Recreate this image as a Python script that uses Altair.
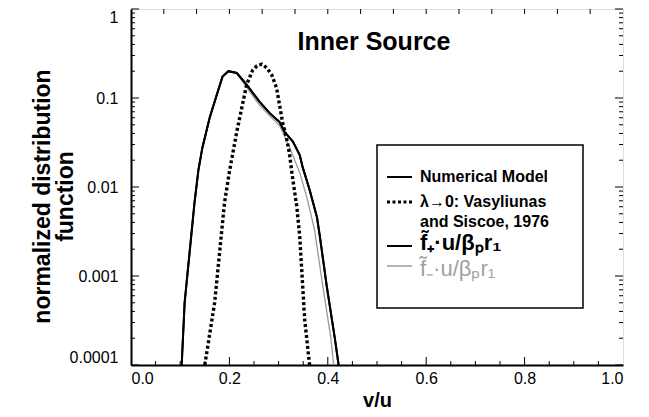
import altair as alt
import pandas as pd

# ---- data (v/u, normalized distribution function) ----
num_x = [0.103, 0.109, 0.119, 0.129, 0.137, 0.145, 0.160, 0.174, 0.186, 0.198,
         0.215, 0.235, 0.261, 0.282, 0.302, 0.312, 0.329, 0.343, 0.349, 0.363,
         0.378, 0.384, 0.398, 0.414, 0.422]
num_y = [0.0001, 0.000501, 0.00182, 0.00661, 0.0155, 0.0275, 0.0603, 0.107, 0.174, 0.200,
         0.191, 0.141, 0.0912, 0.0676, 0.0537, 0.0417, 0.0324, 0.0229, 0.0166, 0.00933,
         0.00457, 0.00275, 0.000759, 0.000204, 0.0001]

fplus_x = list(num_x)
fplus_y = list(num_y)

fminus_x = [0.103, 0.109, 0.119, 0.129, 0.137, 0.145, 0.160, 0.174, 0.186, 0.198,
            0.215, 0.235, 0.261, 0.282, 0.302, 0.322, 0.343, 0.359, 0.373, 0.390,
            0.406, 0.412]
fminus_y = [0.0001, 0.000501, 0.00182, 0.00661, 0.0155, 0.0275, 0.0603, 0.107, 0.174, 0.200,
            0.189, 0.132, 0.0832, 0.0631, 0.0490, 0.0282, 0.0145, 0.00708, 0.00331, 0.000759,
            0.000204, 0.0001]

vas_x = [0.150, 0.170, 0.180, 0.190, 0.200, 0.215, 0.221, 0.235, 0.247, 0.256,
         0.266, 0.276, 0.286, 0.296, 0.302, 0.308, 0.316, 0.322, 0.329, 0.337,
         0.343, 0.347, 0.353, 0.363]
vas_y = [0.0001, 0.000501, 0.00182, 0.00661, 0.0148, 0.0417, 0.0603, 0.141, 0.204, 0.230,
         0.240, 0.218, 0.182, 0.129, 0.0832, 0.0537, 0.0355, 0.0240, 0.0120, 0.00603,
         0.00275, 0.00117, 0.000324, 0.0001]

x_labels_vals = [0.0, 0.2, 0.4, 0.6, 0.8, 1.0]
x_minor_bottom = [0.05, 0.1, 0.15, 0.25, 0.3, 0.35, 0.45, 0.5, 0.55, 0.65, 0.7, 0.75, 0.85, 0.9, 0.95]
x_major_bottom = [0.2, 0.4, 0.6, 0.8]
x_ticks_top = [1/15, 2/15, 3/15, 4/15, 5/15, 6/15, 7/15, 8/15, 9/15, 10/15, 11/15, 12/15, 13/15, 14/15]
y_major = [0.0001, 0.001, 0.01, 0.1, 1.0]
y_minor = [m * d for d in (0.0001, 0.001, 0.01, 0.1) for m in range(2, 10)]

title_text = "Inner Source"
x_title = "v/u"
y_title = ["normalized distribution", "function"]
legend_labels = ["Numerical Model", "λ→0: Vasyliunas", "and Siscoe, 1976",
                 "f̃₊·u/βₚr₁", "f̃₋·u/βₚr₁"]

W, H = 492, 356
FONT = "Liberation Sans"

xscale = alt.Scale(domain=[0, 1], nice=False)
yscale = alt.Scale(type="log", domain=[0.0001, 1], nice=False)

xaxis = alt.Axis(values=x_labels_vals, format=".1f", ticks=False, grid=False,
                 domainWidth=2, domainColor="black", labelFontSize=16,
                 labelFont=FONT, labelColor="black", labelPadding=5,
                 titleFont=FONT, titleFontSize=20, titleFontWeight="bold",
                 titleColor="black", titlePadding=4)
yaxis = alt.Axis(values=y_major, format="~g", ticks=False, grid=False,
                 domainWidth=2, domainColor="black", labelFontSize=16,
                 labelFont=FONT, labelColor="black", labelPadding=13,
                 labelFlush=True,
                 titleFont=FONT, titleFontSize=23, titleFontWeight="bold",
                 titleColor="black", titleLineHeight=23,
                 titleX=-77, titleY=187)

X = lambda: alt.X("v:Q", scale=xscale, title=x_title, axis=xaxis)
Y = lambda: alt.Y("f:Q", scale=yscale, title=y_title, axis=yaxis)


def curve(xs, ys, color, width, dash=None):
    d = pd.DataFrame({"v": xs, "f": ys, "i": range(len(xs))})
    kw = dict(color=color, strokeWidth=width, clip=True)
    if dash:
        kw["strokeDash"] = dash
    return alt.Chart(d).mark_line(**kw).encode(x=X(), y=Y(), order="i:Q")


lines = [
    curve(fminus_x, fminus_y, "#9a9a9a", 1.3),
    curve(vas_x, vas_y, "black", 3.4, [3, 2.5]),
    curve(num_x, num_y, "black", 2),
    curve(fplus_x, fplus_y, "black", 2),
]


def tick_rules(vals, field, **enc):
    d = pd.DataFrame({field: vals})
    base_enc = dict(x=X()) if field == "v" else dict(y=Y())
    base_enc.update(enc)
    return alt.Chart(d).mark_rule(color="black", strokeWidth=1).encode(**base_enc)


ticks = [
    tick_rules(y_major, "f", x=alt.value(0), x2=alt.value(8)),
    tick_rules(y_minor, "f", x=alt.value(0), x2=alt.value(4)),
    tick_rules(y_major, "f", x=alt.value(W), x2=alt.value(W - 8)),
    tick_rules(y_minor, "f", x=alt.value(W), x2=alt.value(W - 4)),
    tick_rules(x_major_bottom, "v", y=alt.value(H), y2=alt.value(H - 8)),
    tick_rules(x_minor_bottom, "v", y=alt.value(H), y2=alt.value(H - 4)),
    tick_rules(x_ticks_top, "v", y=alt.value(0), y2=alt.value(5)),
]

one = pd.DataFrame({"k": [0]})

title = alt.Chart(pd.DataFrame({"t": [title_text]})).mark_text(
    font=FONT, fontSize=25, fontWeight="bold", color="black", align="center",
    baseline="alphabetic").encode(text="t:N", x=alt.value(243), y=alt.value(41))

box = alt.Chart(one).mark_rect(fill="white", stroke="black", strokeWidth=1.5).encode(
    x=alt.value(246), x2=alt.value(452), y=alt.value(136), y2=alt.value(299))


def sample(y, color="black", width=2, dash=None):
    kw = dict(color=color, strokeWidth=width)
    if dash:
        kw["strokeDash"] = dash
    return alt.Chart(one).mark_rule(**kw).encode(
        x=alt.value(256), x2=alt.value(281), y=alt.value(y))


def label(txt, y, size=16, color="black", weight="bold"):
    return alt.Chart(pd.DataFrame({"t": [txt]})).mark_text(
        font=FONT, fontSize=size, fontWeight=weight, color=color, align="left",
        baseline="middle").encode(text="t:N", x=alt.value(289), y=alt.value(y))


legend = [
    box,
    sample(168),
    label(legend_labels[0], 168),
    sample(193, width=3, dash=[3, 2.5]),
    label(legend_labels[1], 193),
    label(legend_labels[2], 213),
    sample(237),
    label(legend_labels[3], 234, size=22),
    sample(257, color="#9a9a9a", width=1.5),
    label(legend_labels[4], 260, size=22, color="#a0a0a0", weight="normal"),
]

chart = alt.layer(*lines, *ticks, title, *legend).properties(
    width=W, height=H,
    autosize=alt.AutoSizeParams(type="none"),
    padding={"left": 123, "top": 1, "right": 10, "bottom": 50},
).configure_view(stroke="black", strokeWidth=1).configure(background="white")

chart.save("out.html", embed_options={"renderer": "svg", "actions": False})
